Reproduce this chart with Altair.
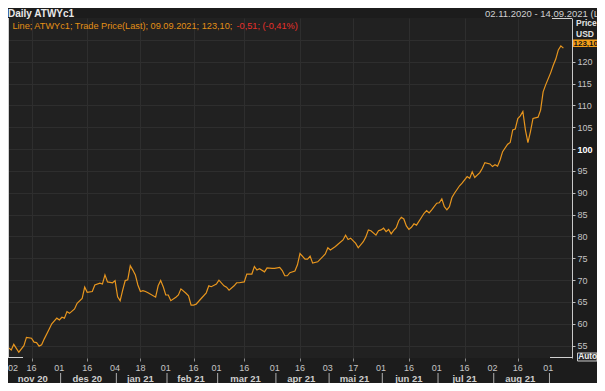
import altair as alt
import pandas as pd

# ---------------- data ----------------
sessions = [0, 1, 2, 3, 4, 5, 7, 8, 10, 11, 12, 13, 14, 15, 17, 18, 20, 21, 22, 23,
            24, 25, 27, 28, 30, 31, 32, 34, 35, 37, 38, 39, 40, 42, 43, 44, 45, 46, 47, 48,
            49, 50, 51, 52, 53, 54, 55, 56, 59, 60, 61, 62, 63, 64, 65, 67, 68, 69, 71, 72,
            73, 74, 75, 77, 79, 80, 81, 83, 84, 86, 87, 88, 90, 91, 92, 94, 95, 96, 97, 98,
            99, 100, 102, 103, 105, 106, 108, 109, 110, 111, 112, 114, 115, 116, 118, 119, 120, 121, 123, 125,
            126, 127, 128, 130, 131, 133, 134, 135, 136, 138, 139, 141, 142, 143, 144, 146, 147, 148, 149, 150,
            151, 152, 153, 154, 155, 156, 157, 158, 159, 160, 161, 162, 164, 165, 166, 167, 168, 170, 171, 172,
            173, 174, 175, 176, 177, 179, 180, 182, 183, 184, 185, 187, 188, 189, 191, 192, 193, 194, 195, 196,
            198, 199, 200, 201, 202, 203, 204, 205, 206, 207, 208, 210, 211, 212, 213, 215, 216, 217, 218, 219,
            220]
prices = [54.2, 54.5, 54.0, 55.3, 54.4, 53.5, 55.0, 56.9, 56.7, 55.8, 55.7, 54.9, 55.2, 56.5, 58.8, 60.0, 61.3, 60.9, 61.5, 61.3,
          62.8, 62.4, 63.4, 64.7, 65.8, 68.4, 67.2, 67.4, 68.9, 69.3, 69.1, 71.2, 69.6, 69.4, 69.9, 66.2, 65.3, 67.7, 69.9, 70.1,
          73.3, 72.3, 71.2, 68.9, 67.4, 67.6, 67.4, 67.1, 66.1, 68.7, 69.9, 68.5, 66.6, 66.6, 65.3, 66.1, 66.6, 68.0, 67.0, 66.4,
          64.3, 64.3, 64.5, 65.8, 67.1, 68.7, 68.5, 69.1, 70.0, 68.7, 68.4, 67.7, 68.7, 69.4, 69.4, 69.6, 71.4, 71.4, 71.4, 73.1,
          72.3, 72.6, 71.9, 72.8, 72.7, 72.7, 72.9, 72.2, 71.0, 71.0, 71.7, 72.1, 73.5, 76.1, 74.8, 74.8, 75.5, 73.9, 74.2, 75.4,
          76.0, 77.4, 76.9, 77.7, 78.2, 79.2, 80.3, 79.3, 79.6, 78.4, 77.4, 78.8, 79.9, 81.5, 81.3, 80.3, 81.3, 81.5, 81.9, 81.1,
          81.6, 80.6, 81.4, 82.0, 83.6, 84.4, 84.0, 82.4, 81.6, 82.1, 82.9, 82.6, 84.4, 85.3, 85.9, 85.4, 86.1, 87.6, 87.7, 88.6,
          86.8, 86.1, 86.8, 88.9, 89.9, 91.6, 92.2, 93.7, 93.3, 94.8, 93.5, 94.6, 95.6, 96.9, 96.6, 96.0, 96.4, 96.1, 97.5, 99.4,
          101.1, 101.5, 104.4, 104.6, 107.0, 107.6, 108.6, 104.4, 101.5, 104.0, 107.0, 107.3, 108.9, 113.1, 114.7, 117.5, 119.2, 120.6, 122.7, 123.61,
          123.10]

title_left = "Daily ATWYc1"
title_right = "02.11.2020 - 14.09.2021 (LOCAL)"
legend_main = "Line; ATWYc1; Trade Price(Last); 09.09.2021; 123,10;"
legend_change = "-0,51; (-0,41%)"
last_label = "123,10"

holidays = ["2020-12-25", "2021-01-01", "2021-04-02"]
tick_dates = ["2020-11-02", "2020-11-16", "2020-12-01", "2020-12-16", "2021-01-04", "2021-01-18",
              "2021-02-01", "2021-02-16", "2021-03-01", "2021-03-16", "2021-04-01", "2021-04-16",
              "2021-05-03", "2021-05-17", "2021-06-01", "2021-06-16", "2021-07-01", "2021-07-16",
              "2021-08-02", "2021-08-16", "2021-09-01"]
month_starts = ["2020-11-02", "2020-12-01", "2021-01-04", "2021-02-01", "2021-03-01", "2021-04-01",
                "2021-05-03", "2021-06-01", "2021-07-01", "2021-08-02", "2021-09-01"]
month_labels = ["nov 20", "des 20", "jan 21", "feb 21", "mar 21", "apr 21", "mai 21",
                "jun 21", "jul 21", "aug 21"]
y_ticks = [55, 60, 65, 70, 75, 80, 85, 90, 95, 100, 105, 110, 115, 120, 125]

# ---------------- trading-session calendar ----------------
cal = pd.bdate_range("2020-11-02", "2021-09-14")
cal = cal[~cal.isin(pd.to_datetime(holidays))]
pos = {d.strftime("%Y-%m-%d"): i for i, d in enumerate(cal)}
tick_pos = [pos[d] for d in tick_dates]
tick_lab = [d[-2:] for d in tick_dates]
ms_pos = [pos[d] for d in month_starts]
year_start = pos["2021-01-04"]

FONT = "Liberation Sans"
W, H = 564, 340
xscale = alt.Scale(domain=[0.72, 223.4], nice=False, zero=False)
yscale = alt.Scale(domain=[52.18, 130.0], nice=False, zero=False)

line_df = pd.DataFrame({"s": sessions, "price": prices})
day_df = pd.DataFrame({"s": tick_pos[1:], "lab": tick_lab[1:]})
sep_df = pd.DataFrame({"s": [p + 0.5 for p in ms_pos[1:]]})
mon_df = pd.DataFrame({"s": [(ms_pos[i] + ms_pos[i + 1]) / 2 for i in range(len(month_labels))],
                       "lab": month_labels})
one = pd.DataFrame({"a": [0]})

x_axis = alt.Axis(values=tick_pos, labels=False, domain=False, ticks=True, tickSize=3,
                  tickColor="#8a8a8a", grid=True,
                  gridColor=alt.condition(f"datum.value == {year_start}", alt.value("#3c3c3c"), alt.value("#2e2e2e")),
                  title=None)
y_axis = alt.Axis(orient="right", values=y_ticks, title=None, grid=True, gridColor="#2e2e2e",
                  labelExpr="datum.value == 125 ? '' : datum.label",
                  tickSize=3, tickColor="#bdbdbd", domainColor="#c8c8c8",
                  labelFont=FONT, labelFontSize=9, labelPadding=2,
                  labelColor=alt.condition("datum.value == 100", alt.value("#ffffff"), alt.value("#c4c4c4")),
                  labelFontWeight=alt.condition("datum.value == 100", alt.value("bold"), alt.value("normal")))

line = alt.Chart(line_df).mark_line(color="#e8961e", strokeWidth=1.2).encode(
    x=alt.X("s:Q", scale=xscale, axis=x_axis),
    y=alt.Y("price:Q", scale=yscale, axis=y_axis),
)

days = alt.Chart(day_df).mark_text(font=FONT, fontSize=9, color="#c4c4c4", baseline="middle").encode(
    x=alt.X("s:Q", scale=xscale), y=alt.value(H + 9.5), text="lab:N")
first_day = alt.Chart(one).mark_text(font=FONT, fontSize=9, color="#c4c4c4", baseline="middle",
                                     align="left", text=tick_lab[0]).encode(
    x=alt.value(0), y=alt.value(H + 9.5))
months = alt.Chart(mon_df).mark_text(font=FONT, fontSize=9.5, fontWeight="bold", color="#d0d0d0",
                                     baseline="middle").encode(
    x=alt.X("s:Q", scale=xscale), y=alt.value(H + 20.5), text="lab:N")
seps = alt.Chart(sep_df).mark_rule(color="#b0b0b0", strokeWidth=1).encode(
    x=alt.X("s:Q", scale=xscale), y=alt.value(H + 15), y2=alt.value(H + 25))


def rule(x, x2, y, y2, color="#d0d0d0"):
    return alt.Chart(one).mark_rule(color=color, strokeWidth=1).encode(
        x=alt.value(x), x2=alt.value(x2), y=alt.value(y), y2=alt.value(y2))


def label(txt, x, y, size=9, weight="normal", color="#e0e0e0", align="left"):
    return alt.Chart(one).mark_text(font=FONT, fontSize=size, fontWeight=weight, color=color,
                                    align=align, baseline="middle", text=txt).encode(
        x=alt.value(x), y=alt.value(y))


frame = [
    rule(0.5, 0.5, 0, H),
    rule(W - 20, W, 0.5, 0.5),
    rule(0, 15, H - 0.5, H - 0.5),
    rule(W - 22, W, H - 0.5, H - 0.5),
]

last_box = alt.Chart(one).mark_rect(color="#f5a01a").encode(
    x=alt.value(W + 1), x2=alt.value(W + 26), y=alt.value(21.5), y2=alt.value(29))
auto_box = alt.Chart(one).mark_rect(fill="#262626", stroke="#c8c8c8", strokeWidth=1).encode(
    x=alt.value(W + 5.5), x2=alt.value(W + 25), y=alt.value(335), y2=alt.value(343))

texts = [
    label(title_left, 0, -4.5, size=10, weight="bold", color="#e8e8e8"),
    label(title_right, 477, -4.5, size=9.5, color="#d0d0d0"),
    label(legend_main, 4.4, 8, size=9.2, color="#e39016"),
    label(legend_change, 228.5, 8, size=9.2, color="#e8302a"),
    label("Price", W + 4, 5, size=8.5, weight="bold"),
    label("USD", W + 4, 16, size=8.5, weight="bold"),
    label(last_label, W + 1.5, 25.5, size=8, weight="bold", color="#141414"),
    label("Auto", W + 6.3, 339, size=8.3, weight="bold", color="#f0f0f0"),
]

chart = alt.layer(line, days, first_day, months, seps, *frame, last_box, auto_box, *texts).properties(
    width=W, height=H,
    autosize=alt.AutoSizeParams(type="none"),
    padding={"left": 0, "top": 10, "right": 25, "bottom": 25},
    background="#1c1c1c",
).configure_view(fill="#212121", stroke=None)

chart.save("out.html", embed_options={"renderer": "svg", "actions": False})
